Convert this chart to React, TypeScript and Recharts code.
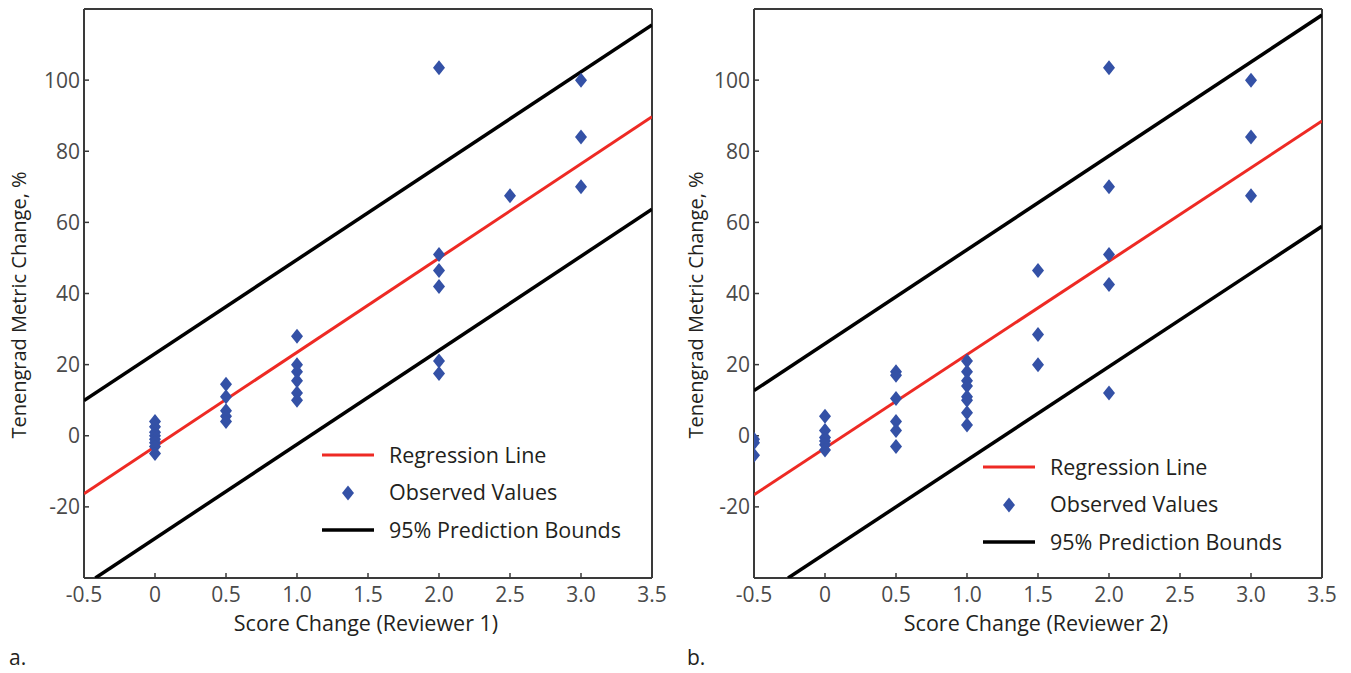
import { ComposedChart, Scatter, XAxis, YAxis } from 'recharts';

const xTicks = [-0.5, 0, 0.5, 1, 1.5, 2, 2.5, 3, 3.5];
const yTicks = [-20, 0, 20, 40, 60, 80, 100];

// [score change, tenengrad metric change %]
const observed1 = [
  [0, 4], [0, 2.5], [0, 1], [0, 0], [0, -1], [0, -2], [0, -3], [0, -5],
  [0.5, 14.5], [0.5, 11], [0.5, 7], [0.5, 5.5], [0.5, 4],
  [1, 28], [1, 20], [1, 18], [1, 15.5], [1, 12], [1, 10],
  [2, 103.5], [2, 51], [2, 46.5], [2, 42], [2, 21], [2, 17.5],
  [2.5, 67.5],
  [3, 100], [3, 84], [3, 70],
];
const regression1 = [[-0.5, -16.3], [3.5, 89.7]];
const upper1 = [[-0.5, 9.9], [3.5, 115.5]];
const lower1 = [[-0.42, -40], [3.5, 63.7]];

const observed2 = [
  [-0.5, -1], [-0.5, -2], [-0.5, -5.5],
  [0, 5.5], [0, 1.5], [0, -0.5], [0, -1.5], [0, -2.5], [0, -4],
  [0.5, 18], [0.5, 17], [0.5, 10.5], [0.5, 4], [0.5, 1.5], [0.5, -3],
  [1, 21], [1, 18], [1, 15.5], [1, 14], [1, 11], [1, 10], [1, 6.5], [1, 3],
  [1.5, 46.5], [1.5, 28.5], [1.5, 20],
  [2, 103.5], [2, 70], [2, 51], [2, 42.5], [2, 12],
  [3, 100], [3, 84], [3, 67.5],
];
const regression2 = [[-0.5, -16.6], [3.5, 88.5]];
const upper2 = [[-0.5, 12.7], [3.5, 118.3]];
const lower2 = [[-0.26, -40], [3.5, 58.9]];

const legendItems = ['Regression Line', 'Observed Values', '95% Prediction Bounds'];

const BLUE = '#3451a6';
const RED = '#ee2a24';
const AXIS = '#3a3a3a';
const TICK = '#4a4a4a';
const TEXT = '#231f20';
const FONT = '"Open Sans", sans-serif';

const W = 680;
const H = 673;

const toXY = (pts: number[][]) => pts.map(([x, y]) => ({ x, y }));
const fmtX = (v: number) => (v === 0 ? '0' : v.toFixed(1));

const Diamond = (props: any) => {
  const { cx, cy } = props;
  return <path d={`M${cx},${cy - 7.5}L${cx + 6},${cy}L${cx},${cy + 7.5}L${cx - 6},${cy}Z`} fill={BLUE} />;
};

const NoDot = () => <g />;

interface PanelProps {
  left: number;
  observed: number[][];
  regression: number[][];
  upper: number[][];
  lower: number[][];
  xLabel: string;
  yLabelX: number;
  legendX: number;
  legendY: number;
  tag: string;
  tagX: number;
}

function Panel({ left, observed, regression, upper, lower, xLabel, yLabelX, legendX, legendY, tag, tagX }: PanelProps) {
  const axisLine = { stroke: AXIS, strokeWidth: 2 };
  const tickLine = { stroke: AXIS, strokeWidth: 1.5 };
  return (
    <div style={{ position: 'absolute', left, top: 0, width: W, height: H }}>
      <ComposedChart width={W} height={H} margin={{ top: 4, right: 23, bottom: 35, left: 24 }}>
        <XAxis
          xAxisId="bottom"
          type="number"
          dataKey="x"
          domain={[-0.5, 3.5]}
          ticks={xTicks}
          tickFormatter={fmtX}
          allowDataOverflow
          height={60}
          tickSize={-5}
          tickMargin={14}
          axisLine={axisLine}
          tickLine={tickLine}
          tick={{ fill: TICK, fontSize: 21, fontFamily: FONT }}
          label={{
            content: () => (
              <text x={366} y={631} textAnchor="middle" fill={TEXT} fontSize={21.5} fontFamily={FONT}>
                {xLabel}
              </text>
            ),
          }}
        />
        <XAxis
          xAxisId="top"
          orientation="top"
          type="number"
          domain={[-0.5, 3.5]}
          ticks={xTicks}
          height={5}
          tickSize={-5}
          axisLine={axisLine}
          tickLine={tickLine}
          tick={false}
        />
        <YAxis
          yAxisId="left"
          type="number"
          dataKey="y"
          domain={[-40, 120]}
          ticks={yTicks}
          allowDataOverflow
          width={60}
          tickSize={-5}
          tickMargin={9}
          axisLine={axisLine}
          tickLine={tickLine}
          tick={{ fill: TICK, fontSize: 21, fontFamily: FONT }}
          label={{
            content: () => (
              <text
                x={yLabelX}
                y={305}
                transform={`rotate(-90 ${yLabelX} 305)`}
                textAnchor="middle"
                fill={TEXT}
                fontSize={20}
                fontFamily={FONT}
              >
                Tenengrad Metric Change, %
              </text>
            ),
          }}
        />
        <YAxis
          yAxisId="right"
          orientation="right"
          type="number"
          domain={[-40, 120]}
          ticks={yTicks}
          width={5}
          tickSize={-5}
          axisLine={axisLine}
          tickLine={tickLine}
          tick={false}
        />
        <Scatter xAxisId="bottom" yAxisId="left" data={toXY(upper)} line={{ stroke: '#000', strokeWidth: 3.5 }} shape={NoDot} isAnimationActive={false} />
        <Scatter xAxisId="bottom" yAxisId="left" data={toXY(lower)} line={{ stroke: '#000', strokeWidth: 3.5 }} shape={NoDot} isAnimationActive={false} />
        <Scatter xAxisId="bottom" yAxisId="left" data={toXY(regression)} line={{ stroke: RED, strokeWidth: 3 }} shape={NoDot} isAnimationActive={false} />
        <Scatter xAxisId="bottom" yAxisId="left" data={toXY(observed)} shape={Diamond} isAnimationActive={false} />
      </ComposedChart>
      <svg width={W} height={H} style={{ position: 'absolute', left: 0, top: 0, pointerEvents: 'none' }}>
        <line x1={legendX} x2={legendX + 52} y1={legendY} y2={legendY} stroke={RED} strokeWidth={3} />
        <Diamond cx={legendX + 26} cy={legendY + 38} />
        <line x1={legendX} x2={legendX + 52} y1={legendY + 75} y2={legendY + 75} stroke="#000" strokeWidth={3.5} />
        {legendItems.map((name, i) => (
          <text key={name} x={legendX + 67} y={legendY + i * 37.5 + 7.5} fill={TEXT} fontSize={21.5} fontFamily={FONT}>
            {name}
          </text>
        ))}
        <text x={tagX} y={665} fill={TEXT} fontSize={21} fontFamily={FONT}>
          {tag}
        </text>
      </svg>
    </div>
  );
}

export default function App() {
  return (
    <div style={{ position: 'absolute', left: 0, top: 0, width: 1351, height: 673, background: '#fff' }}>
      <Panel
        left={0}
        observed={observed1}
        regression={regression1}
        upper={upper1}
        lower={lower1}
        xLabel="Score Change (Reviewer 1)"
        yLabelX={26}
        legendX={322}
        legendY={455}
        tag="a."
        tagX={9}
      />
      <Panel
        left={670}
        observed={observed2}
        regression={regression2}
        upper={upper2}
        lower={lower2}
        xLabel="Score Change (Reviewer 2)"
        yLabelX={33}
        legendX={313}
        legendY={467}
        tag="b."
        tagX={17}
      />
    </div>
  );
}
